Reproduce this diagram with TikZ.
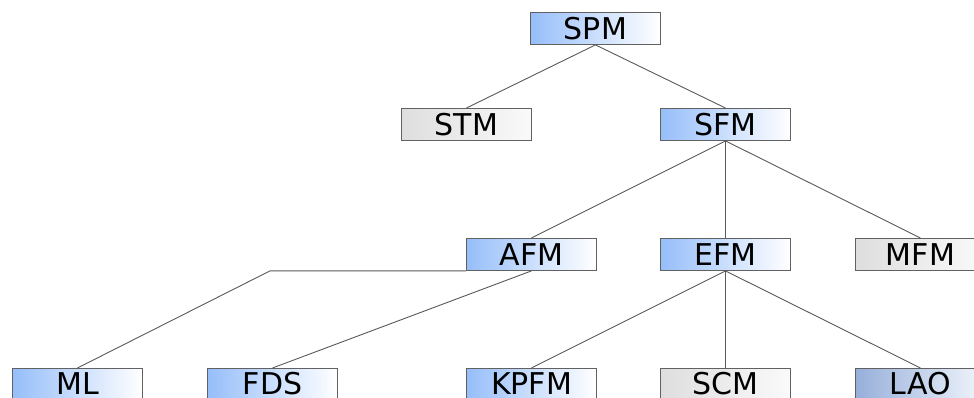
\documentclass[tikz,border=0pt]{standalone}
\usepackage{fontspec}
\setmainfont{DejaVu Sans}
\begin{document}
\begin{tikzpicture}[x=1pt,y=-1pt,
  box/.style={draw=black!62, line width=0.9pt, rectangle, minimum width=130pt, minimum height=32pt, inner sep=0pt, font=\fontsize{30}{30}\selectfont, anchor=north west},
  bluebox/.style={box, left color={rgb,255:red,150;green,190;blue,250}, right color=white},
  graybox/.style={box, left color=black!13, right color=black!2},
  laobox/.style={box, left color={rgb,255:red,150;green,175;blue,218}, right color={rgb,255:red,242;green,246;blue,252}},
  lowrow/.style={minimum height=29.5pt},
  conn/.style={draw=black!65, line width=0.9pt}]
\useasboundingbox (0,0) rectangle (974,398);
\clip (0,0) rectangle (974,398);
\node[bluebox] (spm) at (530,12) {SPM};
\node[graybox] (stm) at (401,108) {STM};
\node[bluebox] (sfm) at (660,108) {SFM};
\node[bluebox] (afm) at (466,238) {AFM};
\node[bluebox] (efm) at (660,238) {EFM};
\node[graybox] (mfm) at (855,238) {MFM};
\node[bluebox, lowrow] (ml) at (12,368) {ML};
\node[bluebox, lowrow] (fds) at (207,368) {FDS};
\node[bluebox, lowrow] (kpfm) at (466,368) {KPFM};
\node[graybox, lowrow] (scm) at (660,368) {SCM};
\node[laobox, lowrow] (lao) at (855,368) {LAO};
\draw[conn] (spm.south) -- (stm.north);
\draw[conn] (spm.south) -- (sfm.north);
\draw[conn] (sfm.south) -- (afm.north);
\draw[conn] (sfm.south) -- (efm.north);
\draw[conn] (sfm.south) -- (mfm.north);
\draw[conn] (afm.south west) -- ++(-196,0) coordinate (bend) -- (ml.north);
\draw[conn] (afm.south) -- (fds.north);
\draw[conn] (efm.south) -- (kpfm.north);
\draw[conn] (efm.south) -- (scm.north);
\draw[conn] (efm.south) -- (lao.north);
\end{tikzpicture}
\end{document}
